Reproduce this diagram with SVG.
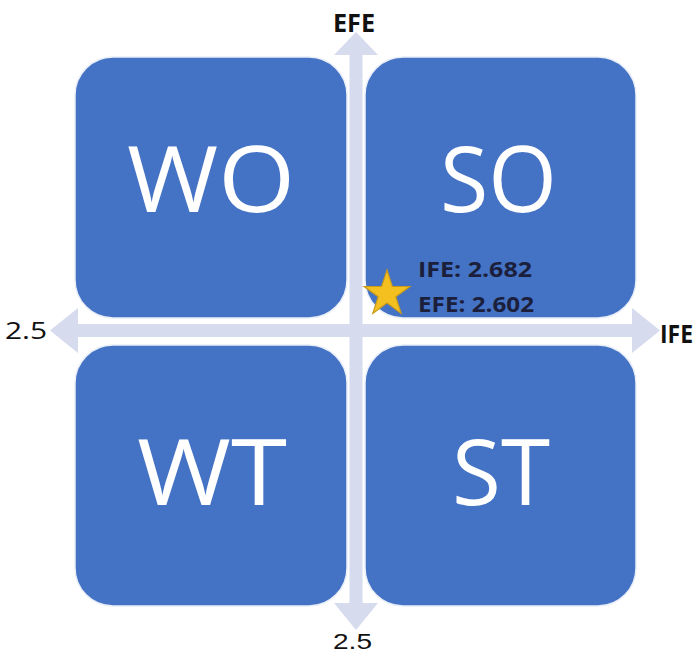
<svg xmlns="http://www.w3.org/2000/svg" width="697" height="655" viewBox="0 0 697 655">
<style>
.box{fill:#4472C4;stroke:#E9EEF8;stroke-width:1.5}
.big{font-family:"Open Sans","Liberation Sans",sans-serif;font-size:92px;fill:#FFFFFF}
.axis{fill:#D6DBEE}
.ax{font-family:"Open Sans","Liberation Sans",sans-serif;font-size:24px;fill:#111111}
.axl{font-family:"Liberation Sans",Arial,sans-serif;font-size:22px;fill:#111111}
.axb{font-family:"Open Sans","Liberation Sans",sans-serif;font-size:25px;font-weight:bold;fill:#111111}
.val{font-family:"Open Sans","Liberation Sans",sans-serif;font-size:22px;font-weight:bold;fill:#1B1F3B}
</style>
<rect width="697" height="655" fill="#FFFFFF"/>
<g id="WO"><rect class="box" x="75" y="57" width="272" height="261" rx="38"/><text class="big" x="127" y="212" textLength="168" lengthAdjust="spacingAndGlyphs">WO</text></g>
<g id="SO"><rect class="box" x="365" y="57" width="271" height="261" rx="38"/><text class="big" x="440" y="212" textLength="117" lengthAdjust="spacingAndGlyphs">SO</text></g>
<g id="WT"><rect class="box" x="75" y="345" width="272" height="261" rx="38"/><text class="big" x="137" y="505" textLength="150" lengthAdjust="spacingAndGlyphs">WT</text></g>
<g id="ST"><rect class="box" x="365" y="345" width="271" height="261" rx="38"/><text class="big" x="452" y="505" textLength="98" lengthAdjust="spacingAndGlyphs">ST</text></g>
<g id="connectors">
<rect class="axis" x="349.5" y="54" width="13" height="550"/>
<polygon class="axis" points="356,32 334,55 378,55"/>
<polygon class="axis" points="356,630 334,603 378,603"/>
<rect class="axis" x="77" y="324" width="556" height="13"/>
<polygon class="axis" points="50,330.5 78,308 78,353"/>
<polygon class="axis" points="660,330.5 632,308 632,353"/>
</g>
<g id="labels">
<text class="axb" x="333" y="32" textLength="42" lengthAdjust="spacingAndGlyphs">EFE</text>
<text class="ax" x="5" y="339" textLength="42" lengthAdjust="spacingAndGlyphs">2.5</text>
<text class="axb" x="660" y="343" textLength="33" lengthAdjust="spacingAndGlyphs">IFE</text>
<text class="axl" x="333" y="649" textLength="39" lengthAdjust="spacingAndGlyphs">2.5</text>
</g>
<g id="point">
<polygon points="387,270 392.4,286.5 409.9,286.5 395.8,296.8 401.2,313.4 387,303.1 372.8,313.4 378.2,296.8 364.1,286.5 381.6,286.5" fill="#F4C020" stroke="#C79A1C" stroke-width="1.2"/>
<text class="val" x="418" y="277" textLength="114" lengthAdjust="spacingAndGlyphs">IFE: 2.682</text>
<text class="val" x="418" y="312" textLength="116" lengthAdjust="spacingAndGlyphs">EFE: 2.602</text>
</g>
</svg>
